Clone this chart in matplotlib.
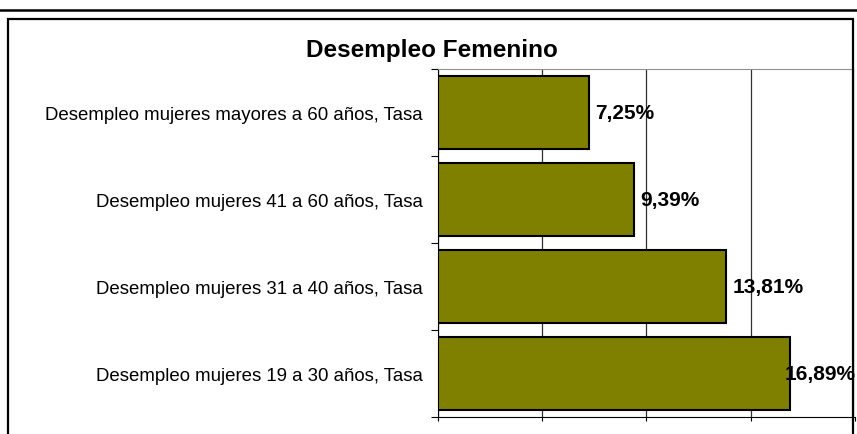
import matplotlib.pyplot as plt
from matplotlib.lines import Line2D
from matplotlib.patches import Rectangle

plt.rcParams['font.family'] = ['Liberation Sans', 'DejaVu Sans']

# data (top to bottom as shown)
categories = [
    "Desempleo mujeres mayores a 60 años, Tasa",
    "Desempleo mujeres 41 a 60 años, Tasa",
    "Desempleo mujeres 31 a 40 años, Tasa",
    "Desempleo mujeres 19 a 30 años, Tasa",
]
tasas = [7.25, 9.39, 13.81, 16.89]
etiquetas = ["7,25%", "9,39%", "13,81%", "16,89%"]

W, H = 857, 435
fig = plt.figure(figsize=(W / 100, H / 100), dpi=100)
ax = fig.add_axes([437.6 / W, 1 - 418 / H, (855.2 - 437.6) / W, (418 - 70) / H])

pos = list(range(len(categories)))
ax.barh(pos, tasas, height=0.85, color="#808000", edgecolor="black", linewidth=1.5, zorder=3)
ax.set_ylim(len(categories) - 0.5, -0.5)
ax.set_xlim(0, 20)

# gridlines
ax.set_xticks([0, 5, 10, 15, 20])
ax.xaxis.grid(True, color="#303030", linewidth=0.9, zorder=0)
ax.tick_params(axis="x", direction="out", length=3, labelbottom=False, color="black")

# category ticks at boundaries, labels at centers
ax.set_yticks([i - 0.5 for i in range(len(categories) + 1)])
ax.set_yticklabels([])
ax.set_yticks(pos, minor=True)
ax.set_yticklabels(categories, minor=True, fontsize=13.4)
ax.tick_params(axis="y", which="major", direction="out", length=5, color="black")
ax.tick_params(axis="y", which="minor", length=0, pad=10.5)

ax.spines["top"].set_color("#909090")
ax.spines["top"].set_bounds(0, 19.85)
ax.spines["right"].set_visible(False)
ax.spines["left"].set_color("black")
ax.spines["bottom"].set_color("black")

for i, (v, t) in enumerate(zip(tasas, etiquetas)):
    if v > 16:
        ax.text(20, i, t, ha="right", va="center", fontsize=15, fontweight="bold", zorder=5)
    else:
        ax.annotate(t, (v, i), xytext=(4.5, 0), textcoords="offset points",
                    ha="left", va="center", fontsize=15, fontweight="bold", zorder=5)

fig.text(432 / W, 1 - 50 / H, "Desempleo Femenino", ha="center", va="center",
         fontsize=17.5, fontweight="bold")

# outer frame lines
fig.add_artist(Line2D([0, 1], [1 - 11 / H, 1 - 11 / H], color="black", linewidth=1.8))
fig.add_artist(Rectangle((8 / W, -0.05), (853 - 8) / W, 1.05 - 19.5 / H, fill=False,
                         edgecolor="black", linewidth=1.6, transform=fig.transFigure))

fig.savefig("out.png", dpi=100)
